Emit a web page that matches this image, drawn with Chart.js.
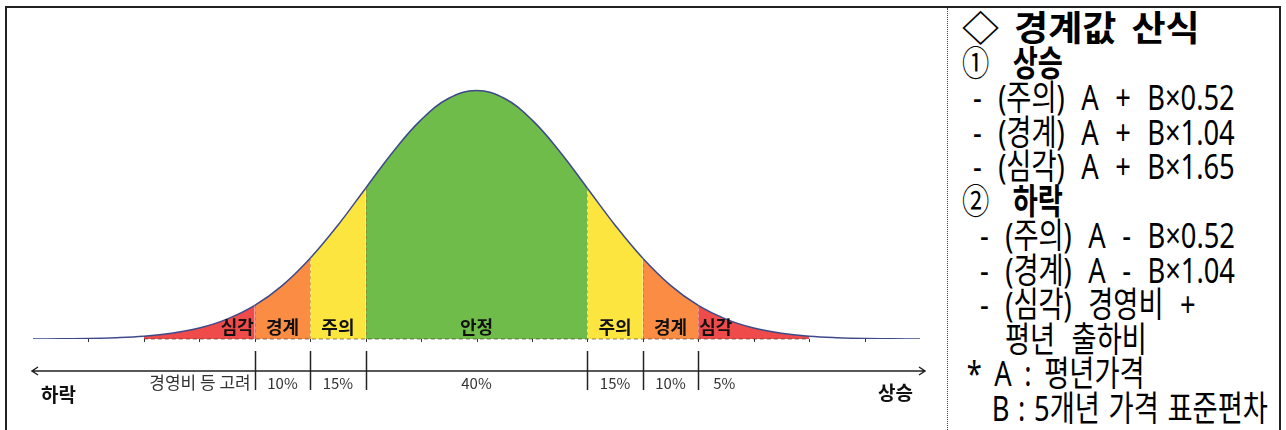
<!DOCTYPE html>
<html lang="ko">
<head>
<meta charset="utf-8">
<script src="https://cdn.jsdelivr.net/npm/chart.js@4/dist/chart.umd.min.js"></script>
<style>
  html, body { margin: 0; padding: 0; background: #fff; }
  body { width: 1286px; height: 430px; position: relative; overflow: hidden; font-family: "Noto Sans CJK KR", "Noto Sans", sans-serif; }
  #frame { position: absolute; left: 5px; top: 6px; width: 1276px; height: 440px; border: 2px solid #222; box-sizing: border-box; }
  #divider { position: absolute; left: 947px; top: 8px; height: 430px; border-left: 1px dotted #444; }
  #chart-box { position: absolute; left: 0; top: 0; width: 948px; height: 430px; }
  #notes { position: absolute; left: 962px; top: 11px; width: 320px; color: #000; font-family: "Noto Sans", "Noto Sans CJK KR", sans-serif; }
  #notes div { white-space: pre; height: 34.5px; line-height: 34.5px; font-size: 35px; word-spacing: 12px; transform: scaleX(0.78); transform-origin: left center; }
  #notes div.title { font-size: 35px; font-weight: bold; word-spacing: 5px; transform: scaleX(1.06); }
  #notes b { font-weight: bold; margin-left: 30px; }
  #notes .i1 { padding-left: 14px; }
  #notes .i2 { padding-left: 23px; }
  #notes .i3 { padding-left: 55px; }
  #notes .i4 { padding-left: 6px; word-spacing: 7px; }
  #notes .i5 { padding-left: 38px; word-spacing: 2px; }
</style>
</head>
<body>
<div id="frame"></div>
<div id="divider"></div>
<div id="chart-box"><canvas id="bell" width="948" height="430"></canvas></div>
<div id="notes">
  <div class="title">◇ 경계값 산식</div>
  <div>①<b>상승</b></div>
  <div class="i1">- (주의) A + B×0.52</div>
  <div class="i1">- (경계) A + B×1.04</div>
  <div class="i1">- (심각) A + B×1.65</div>
  <div>②<b>하락</b></div>
  <div class="i2">- (주의) A - B×0.52</div>
  <div class="i2">- (경계) A - B×1.04</div>
  <div class="i2">- (심각) 경영비 +</div>
  <div class="i3">평년 출하비</div>
  <div class="i4">* A : 평년가격</div>
  <div class="i5">B : 5개년 가격 표준편차</div>
</div>
<script>
// curve: x in standard deviations, height relative to the peak
const sigmaSteps = [-4, -3.75, -3.5, -3.25, -3, -2.75, -2.5, -2.25, -2, -1.75, -1.5, -1.25, -1, -0.75, -0.5, -0.25,
                    0, 0.25, 0.5, 0.75, 1, 1.25, 1.5, 1.75, 2, 2.25, 2.5, 2.75, 3, 3.25, 3.5, 3.75, 4];
const curveHeights = [0, 0.1, 0.2, 0.5, 1.1, 2.3, 4.4, 8.0, 13.5, 21.6, 32.5, 45.8, 60.7, 75.5, 88.2, 96.9,
                      100, 96.9, 88.2, 75.5, 60.7, 45.8, 32.5, 21.6, 13.5, 8.0, 4.4, 2.3, 1.1, 0.5, 0.2, 0.1, 0];

const zoneEdges = [-3, -2, -1.5, -1, 1, 1.5, 2, 3];
const zoneNames = ['심각', '경계', '주의', '안정', '주의', '경계', '심각'];
const zoneShares = ['경영비 등 고려', '10%', '15%', '40%', '15%', '10%', '5%'];
const zoneColors = ['#f04b4b', '#fa8c44', '#fde540', '#70bc4b', '#fde540', '#fa8c44', '#f04b4b'];
const baseTicks = [-3.5, -3, -2.5, -2, -1.5, -1, -0.5, 0, 0.5, 1, 1.5, 2, 2.5, 3, 3.5];
const dividers = [-2, -1.5, -1, 1, 1.5, 2];
const directionLabels = ['하락', '상승'];

const zoneColorAt = (x) => {
    for (let i = 0; i < zoneColors.length; i++) {
        if (x >= zoneEdges[i] && x <= zoneEdges[i + 1]) return zoneColors[i];
    }
    return 'rgba(0,0,0,0)';
};

const heightAt = (x) => curveHeights[sigmaSteps.indexOf(x)];

const bellDecor = {
    id: 'bellDecor',
    afterDatasetsDraw(chart) {
        const { ctx, scales: { x, y } } = chart;
        const base = y.getPixelForValue(0);
        ctx.save();

        // dashed lines where the zones meet
        ctx.setLineDash([3, 3]);
        ctx.lineWidth = 1;
        ctx.strokeStyle = 'rgba(170, 80, 30, 0.45)';
        zoneEdges.slice(1, -1).forEach(v => {
            const px = Math.round(x.getPixelForValue(v)) + 0.5;
            ctx.beginPath();
            ctx.moveTo(px, y.getPixelForValue(heightAt(v)));
            ctx.lineTo(px, base);
            ctx.stroke();
        });

        // baseline under the coloured part
        ctx.strokeStyle = 'rgba(60, 40, 40, 0.6)';
        ctx.setLineDash([4, 3]);
        ctx.beginPath();
        ctx.moveTo(x.getPixelForValue(zoneEdges[0]), base);
        ctx.lineTo(x.getPixelForValue(zoneEdges[zoneEdges.length - 1]), base);
        ctx.stroke();
        ctx.setLineDash([]);

        // small ticks on the baseline
        ctx.strokeStyle = '#333';
        baseTicks.forEach(v => {
            const px = Math.round(x.getPixelForValue(v)) + 0.5;
            ctx.beginPath();
            ctx.moveTo(px, base);
            ctx.lineTo(px, base + 3);
            ctx.stroke();
        });

        // zone names
        ctx.fillStyle = '#111';
        ctx.font = 'bold 18px "Noto Sans CJK KR"';
        ctx.textBaseline = 'middle';
        zoneNames.forEach((name, i) => {
            const a = x.getPixelForValue(zoneEdges[i]);
            const b = x.getPixelForValue(zoneEdges[i + 1]);
            if (i === 0) {
                ctx.textAlign = 'right';
                ctx.fillText(name, b - 1, base - 12);
            } else if (i === zoneNames.length - 1) {
                ctx.textAlign = 'left';
                ctx.fillText(name, a + 1, base - 12);
            } else {
                ctx.textAlign = 'center';
                ctx.fillText(name, (a + b) / 2, base - 12);
            }
        });

        // lower axis with arrows
        const axisY = base + 32;
        const left = x.left - 1;
        const right = x.right + 5;
        ctx.strokeStyle = '#222';
        ctx.lineWidth = 1.5;
        ctx.beginPath();
        ctx.moveTo(left, axisY);
        ctx.lineTo(right, axisY);
        ctx.moveTo(left + 6, axisY - 4);
        ctx.lineTo(left, axisY);
        ctx.lineTo(left + 6, axisY + 4);
        ctx.moveTo(right - 6, axisY - 4);
        ctx.lineTo(right, axisY);
        ctx.lineTo(right - 6, axisY + 4);
        ctx.stroke();

        dividers.forEach(v => {
            const px = Math.round(x.getPixelForValue(v)) + 0.5;
            ctx.beginPath();
            ctx.moveTo(px, axisY - 20);
            ctx.lineTo(px, axisY + 19);
            ctx.stroke();
        });

        // shares under the axis
        ctx.fillStyle = '#333';
        zoneShares.forEach((txt, i) => {
            const a = x.getPixelForValue(zoneEdges[i]);
            const b = x.getPixelForValue(zoneEdges[i + 1]);
            if (i === 0) {
                ctx.font = '17px "Noto Sans CJK KR"';
                ctx.textAlign = 'right';
                ctx.fillText(txt, b - 4, axisY + 12);
            } else if (i === zoneShares.length - 1) {
                ctx.font = '15px "Noto Sans CJK KR"';
                ctx.textAlign = 'left';
                ctx.fillText(txt, a + 15, axisY + 12);
            } else {
                ctx.font = '15px "Noto Sans CJK KR"';
                ctx.textAlign = 'center';
                ctx.fillText(txt, (a + b) / 2, axisY + 12);
            }
        });

        ctx.fillStyle = '#111';
        ctx.font = 'bold 19px "Noto Sans CJK KR"';
        ctx.textAlign = 'left';
        ctx.fillText(directionLabels[0], x.left + 8, axisY + 24);
        ctx.textAlign = 'right';
        ctx.fillText(directionLabels[1], x.right - 7, axisY + 22);

        ctx.restore();
    }
};

new Chart(document.getElementById('bell'), {
    type: 'line',
    data: {
        datasets: [{
            data: sigmaSteps.map((s, i) => ({ x: s, y: curveHeights[i] })),
            borderColor: '#3d4a8a',
            borderWidth: 1.5,
            pointRadius: 0,
            tension: 0.4,
            fill: 'origin',
            backgroundColor: 'rgba(0,0,0,0)',
            segment: {
                backgroundColor: c => zoneColorAt((c.p0.parsed.x + c.p1.parsed.x) / 2),
            },
        }]
    },
    options: {
        responsive: false,
        animation: false,
        devicePixelRatio: 1,
        layout: { padding: { left: 33, right: 28, top: 16, bottom: 91 } },
        plugins: { legend: { display: false }, tooltip: { enabled: false }, title: { display: false } },
        scales: {
            x: { type: 'linear', min: -4, max: 4, display: false },
            y: { min: 0, max: 130, display: false }
        }
    },
    plugins: [bellDecor]
});
</script>
</body>
</html>
